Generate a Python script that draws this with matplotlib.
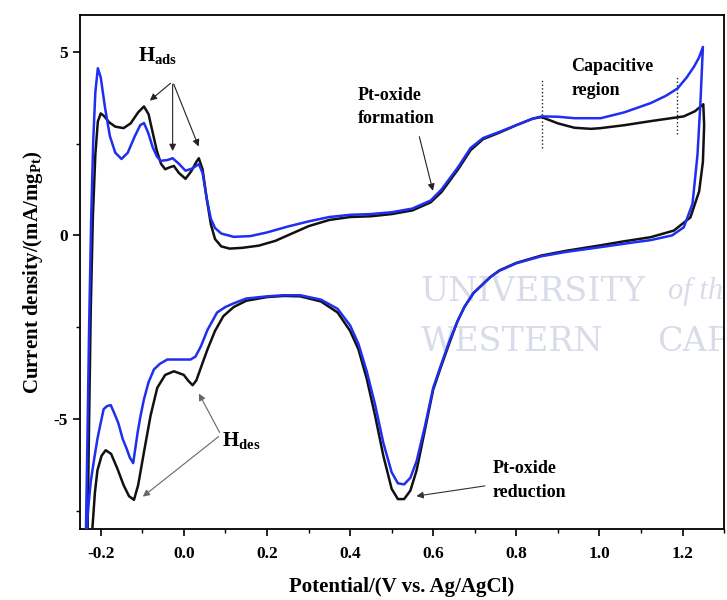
import matplotlib
matplotlib.use('Agg')
import matplotlib.pyplot as plt
import numpy as np

# cyclic voltammograms, potential (V vs Ag/AgCl) and current density (mA/mg_Pt)
# black curve: anodic sweep then cathodic sweep
black_v = [-0.232, -0.228, -0.224, -0.219, -0.213, -0.207, -0.200, -0.192, -0.180, -0.165,
           -0.145, -0.128, -0.110, -0.096, -0.085, -0.075, -0.065, -0.055, -0.045, -0.035,
           -0.024, -0.012, 0.004, 0.018, 0.030, 0.036, 0.045, 0.055, 0.065, 0.075,
           0.090, 0.110, 0.140, 0.180, 0.220, 0.260, 0.300, 0.350, 0.400, 0.450,
           0.500, 0.550, 0.594, 0.620, 0.660, 0.690, 0.720, 0.760, 0.800, 0.840,
           0.861, 0.900, 0.940, 0.980, 1.003, 1.060, 1.123, 1.160, 1.203, 1.230,
           1.250,
           1.252, 1.249, 1.240, 1.219, 1.179, 1.123, 1.060, 1.003, 0.920, 0.860,
           0.800, 0.760, 0.738, 0.697, 0.675, 0.658, 0.640, 0.618, 0.600, 0.580,
           0.560, 0.545, 0.530, 0.515, 0.500, 0.480, 0.460, 0.440, 0.420, 0.400,
           0.370, 0.330, 0.280, 0.240, 0.200, 0.150, 0.120, 0.095, 0.075, 0.057,
           0.041, 0.030, 0.021, 0.010, 0.000, -0.024, -0.045, -0.064, -0.080, -0.096,
           -0.110, -0.120, -0.132, -0.145, -0.160, -0.175, -0.188, -0.198, -0.208, -0.214,
           -0.219, -0.222]
black_i = [-8.3, -5.0, -2.0, 0.5, 2.2, 3.1, 3.32, 3.25, 3.08, 2.96,
           2.92, 3.05, 3.35, 3.51, 3.30, 2.80, 2.30, 1.95, 1.80, 1.85,
           1.89, 1.70, 1.54, 1.75, 2.00, 2.10, 1.80, 1.00, 0.30, -0.10,
           -0.30, -0.36, -0.34, -0.28, -0.15, 0.05, 0.25, 0.42, 0.50, 0.52,
           0.58, 0.68, 0.90, 1.18, 1.80, 2.32, 2.62, 2.80, 3.00, 3.18,
           3.22, 3.05, 2.93, 2.90, 2.92, 3.00, 3.11, 3.17, 3.24, 3.38,
           3.57,
           3.00, 2.00, 1.20, 0.49, 0.13, -0.05, -0.16, -0.27, -0.42, -0.55,
           -0.75, -0.95, -1.13, -1.57, -1.95, -2.35, -2.90, -3.60, -4.20, -5.30,
           -6.40, -6.95, -7.18, -7.18, -6.90, -6.00, -4.90, -3.90, -3.10, -2.60,
           -2.10, -1.80, -1.66, -1.65, -1.68, -1.78, -1.95, -2.20, -2.60, -3.10,
           -3.60, -3.95, -4.08, -3.95, -3.80, -3.70, -3.80, -4.15, -4.90, -5.90,
           -6.80, -7.20, -7.10, -6.80, -6.35, -5.95, -5.85, -6.00, -6.40, -7.00,
           -7.80, -8.30]

# blue curve
blue_v = [-0.236, -0.232, -0.228, -0.223, -0.218, -0.213, -0.207, -0.200, -0.190, -0.178,
          -0.165, -0.150, -0.135, -0.118, -0.105, -0.096, -0.086, -0.075, -0.065, -0.056,
          -0.040, -0.027, -0.012, 0.004, 0.020, 0.036, 0.045, 0.055, 0.065, 0.075,
          0.090, 0.120, 0.160, 0.200, 0.250, 0.300, 0.350, 0.400, 0.450, 0.500,
          0.550, 0.594, 0.620, 0.660, 0.690, 0.720, 0.760, 0.800, 0.840, 0.861,
          0.900, 0.940, 1.003, 1.060, 1.123, 1.160, 1.188, 1.210, 1.228, 1.240,
          1.249,
          1.243, 1.236, 1.224, 1.203, 1.175, 1.123, 1.083, 1.003, 0.920, 0.860,
          0.800, 0.760, 0.738, 0.697, 0.675, 0.658, 0.640, 0.618, 0.600, 0.580,
          0.560, 0.545, 0.530, 0.515, 0.500, 0.480, 0.460, 0.440, 0.420, 0.400,
          0.370, 0.330, 0.280, 0.240, 0.200, 0.150, 0.120, 0.100, 0.080, 0.057,
          0.041, 0.028, 0.016, -0.010, -0.040, -0.058, -0.072, -0.085, -0.096, -0.104,
          -0.111, -0.122, -0.130, -0.138, -0.147, -0.158, -0.169, -0.176, -0.185, -0.193,
          -0.200, -0.208, -0.216, -0.224, -0.230, -0.236]
blue_i = [-8.3, -5.5, -2.5, 0.5, 2.6, 3.9, 4.55, 4.30, 3.50, 2.70,
          2.25, 2.08, 2.25, 2.70, 3.00, 3.06, 2.80, 2.40, 2.15, 2.03,
          2.05, 2.10, 1.95, 1.76, 1.82, 1.94, 1.70, 1.00, 0.45, 0.20,
          0.05, -0.04, -0.02, 0.08, 0.24, 0.38, 0.50, 0.56, 0.58, 0.63,
          0.73, 0.95, 1.25, 1.86, 2.38, 2.65, 2.82, 3.00, 3.18, 3.24,
          3.23, 3.19, 3.19, 3.35, 3.60, 3.80, 4.00, 4.30, 4.60, 4.85,
          5.13,
          3.60, 2.20, 0.86, 0.22, 0.00, -0.13, -0.19, -0.32, -0.45, -0.57,
          -0.76, -0.96, -1.13, -1.57, -1.95, -2.35, -2.85, -3.55, -4.15, -5.20,
          -6.15, -6.60, -6.78, -6.75, -6.45, -5.65, -4.60, -3.70, -2.95, -2.45,
          -2.00, -1.75, -1.63, -1.63, -1.66, -1.72, -1.85, -1.95, -2.10, -2.57,
          -3.02, -3.30, -3.38, -3.38, -3.38, -3.50, -3.65, -4.00, -4.46, -4.90,
          -5.35, -6.20, -6.05, -5.80, -5.55, -5.10, -4.80, -4.62, -4.65, -4.73,
          -5.10, -5.54, -6.10, -6.70, -7.40, -8.30]

# capacitive region borders (V)
cap_edges = [0.861, 1.186]

plt.rcParams['font.family'] = 'Liberation Serif'
plt.rcParams['font.weight'] = 'bold'
plt.rcParams['axes.labelweight'] = 'bold'
plt.rcParams['axes.unicode_minus'] = False
plt.rcParams['mathtext.fontset'] = 'custom'
plt.rcParams['mathtext.rm'] = 'Liberation Serif:bold'
plt.rcParams['mathtext.it'] = 'Liberation Serif:bold'
plt.rcParams['mathtext.bf'] = 'Liberation Serif:bold'

fig = plt.figure(figsize=(7.27, 6.0), dpi=100)
ax = fig.add_axes([0.110, 0.118, 0.886, 0.857])

# faint watermark text (cut at the right spine like the original)
wm = '#d8dbe8'
wkw = dict(fontsize=24, color=wm, weight='normal', family='DejaVu Serif', va='center', zorder=0, clip_on=True)
ax.text(0.570, -1.54, 'UNIVERSITY', **wkw)
ax.text(1.164, -1.54, 'of the', fontsize=22, color=wm, style='italic', va='center', zorder=0,
        weight='normal', clip_on=True)
ax.text(0.570, -2.89, 'WESTERN', **wkw)
ax.text(1.140, -2.89, 'CAPE', **wkw)

ax.plot(black_v, black_i, color='#111111', lw=1.8, zorder=3)
ax.plot(blue_v, blue_i, color='#1f2ff0', lw=1.8, zorder=3)

ax.set_xlim(-0.25, 1.30)
ax.set_ylim(-8, 6)
ax.set_xticks(np.arange(-0.2, 1.21, 0.2))
ax.set_xticks(np.arange(-0.1, 1.31, 0.2), minor=True)
ax.set_yticks([-5, 0, 5])
ax.set_yticks([-7.5, -2.5, 2.5], minor=True)
ax.xaxis.set_major_formatter(plt.FormatStrFormatter('%.1f'))
ax.tick_params(which='major', direction='out', length=5, width=1.2, labelsize=12.5)
ax.tick_params(axis='x', which='major', pad=7)
ax.tick_params(which='minor', direction='out', length=3, width=1.0)
for s in ax.spines.values():
    s.set_linewidth(1.3)

ax.set_xlabel('Potential/(V vs. Ag/AgCl)', fontsize=15, labelpad=11)
ax.set_ylabel('Current density/(mA/mg$_{Pt}$)', fontsize=15, labelpad=6)

# H adsorption
ax.text(-0.111, 4.75, 'H$_{ads}$', fontsize=15, va='baseline')
for hv, hi in [(-0.087, 3.62), (-0.027, 2.22), (0.038, 2.35)]:
    ax.annotate('', xy=(hv, hi), xytext=(-0.027, 4.19),
                arrowprops=dict(arrowstyle='-|>', color='#222222', lw=0.8, mutation_scale=10))

# Pt-oxide formation
ax.text(0.418, 3.49, 'Pt-oxide\nformation', fontsize=13, va='center', ha='left', linespacing=1.5)
ax.annotate('', xy=(0.601, 1.14), xytext=(0.565, 2.76),
            arrowprops=dict(arrowstyle='-|>', color='#222222', lw=0.8, mutation_scale=10))

# capacitive region
ax.text(0.933, 4.27, 'Capacitive\nregion', fontsize=13, va='center', ha='left', linespacing=1.5)
ax.plot([cap_edges[0], cap_edges[0]], [2.38, 4.27], color='#222222', ls=':', lw=1.0)
ax.plot([cap_edges[1], cap_edges[1]], [2.76, 4.32], color='#222222', ls=':', lw=1.0)

# H desorption
ax.text(0.091, -5.73, 'H$_{des}$', fontsize=15, va='baseline')
for hv, hi in [(0.033, -4.24), (-0.104, -7.16)]:
    ax.annotate('', xy=(hv, hi), xytext=(0.089, -5.43),
                arrowprops=dict(arrowstyle='-|>', color='#666666', lw=0.8, mutation_scale=10))

# Pt-oxide reduction
ax.text(0.743, -6.68, 'Pt-oxide\nreduction', fontsize=13, va='center', ha='left', linespacing=1.5)
ax.annotate('', xy=(0.553, -7.11), xytext=(0.731, -6.81),
            arrowprops=dict(arrowstyle='-|>', color='#333333', lw=0.8, mutation_scale=10))

plt.savefig('out.png', dpi=100)
